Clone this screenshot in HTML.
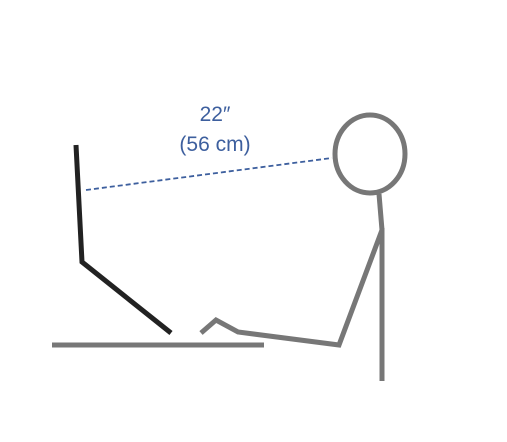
<!DOCTYPE html>
<html>
<head>
<meta charset="utf-8">
<style>
html,body{margin:0;padding:0;background:#fff;}
svg{display:block;}
text{font-family:"Liberation Sans",sans-serif;}
</style>
</head>
<body>
<svg width="507" height="442" viewBox="0 0 507 442">
  <line x1="52" y1="345" x2="264" y2="345" stroke="#777" stroke-width="5"/>
  <polyline points="76,145 82,262 171,333" fill="none" stroke="#222" stroke-width="5" stroke-linejoin="miter"/>
  <polyline points="201,333 216,320 238,332 339,345 382,230" fill="none" stroke="#777" stroke-width="5" stroke-linejoin="miter"/>
  <line x1="379" y1="194" x2="382" y2="230" stroke="#777" stroke-width="5"/>
  <line x1="382" y1="228" x2="382" y2="381" stroke="#777" stroke-width="5"/>
  <ellipse cx="370" cy="154" rx="35" ry="39" fill="none" stroke="#777" stroke-width="5"/>
  <line x1="86" y1="190" x2="332" y2="158" stroke="#3d5f9e" stroke-width="1.8" stroke-dasharray="5,3"/>
  <text x="215" y="121" text-anchor="middle" font-size="21" fill="#3d5f9e">22″</text>
  <text x="215" y="151" text-anchor="middle" font-size="21" fill="#3d5f9e">(56 cm)</text>
</svg>
</body>
</html>
